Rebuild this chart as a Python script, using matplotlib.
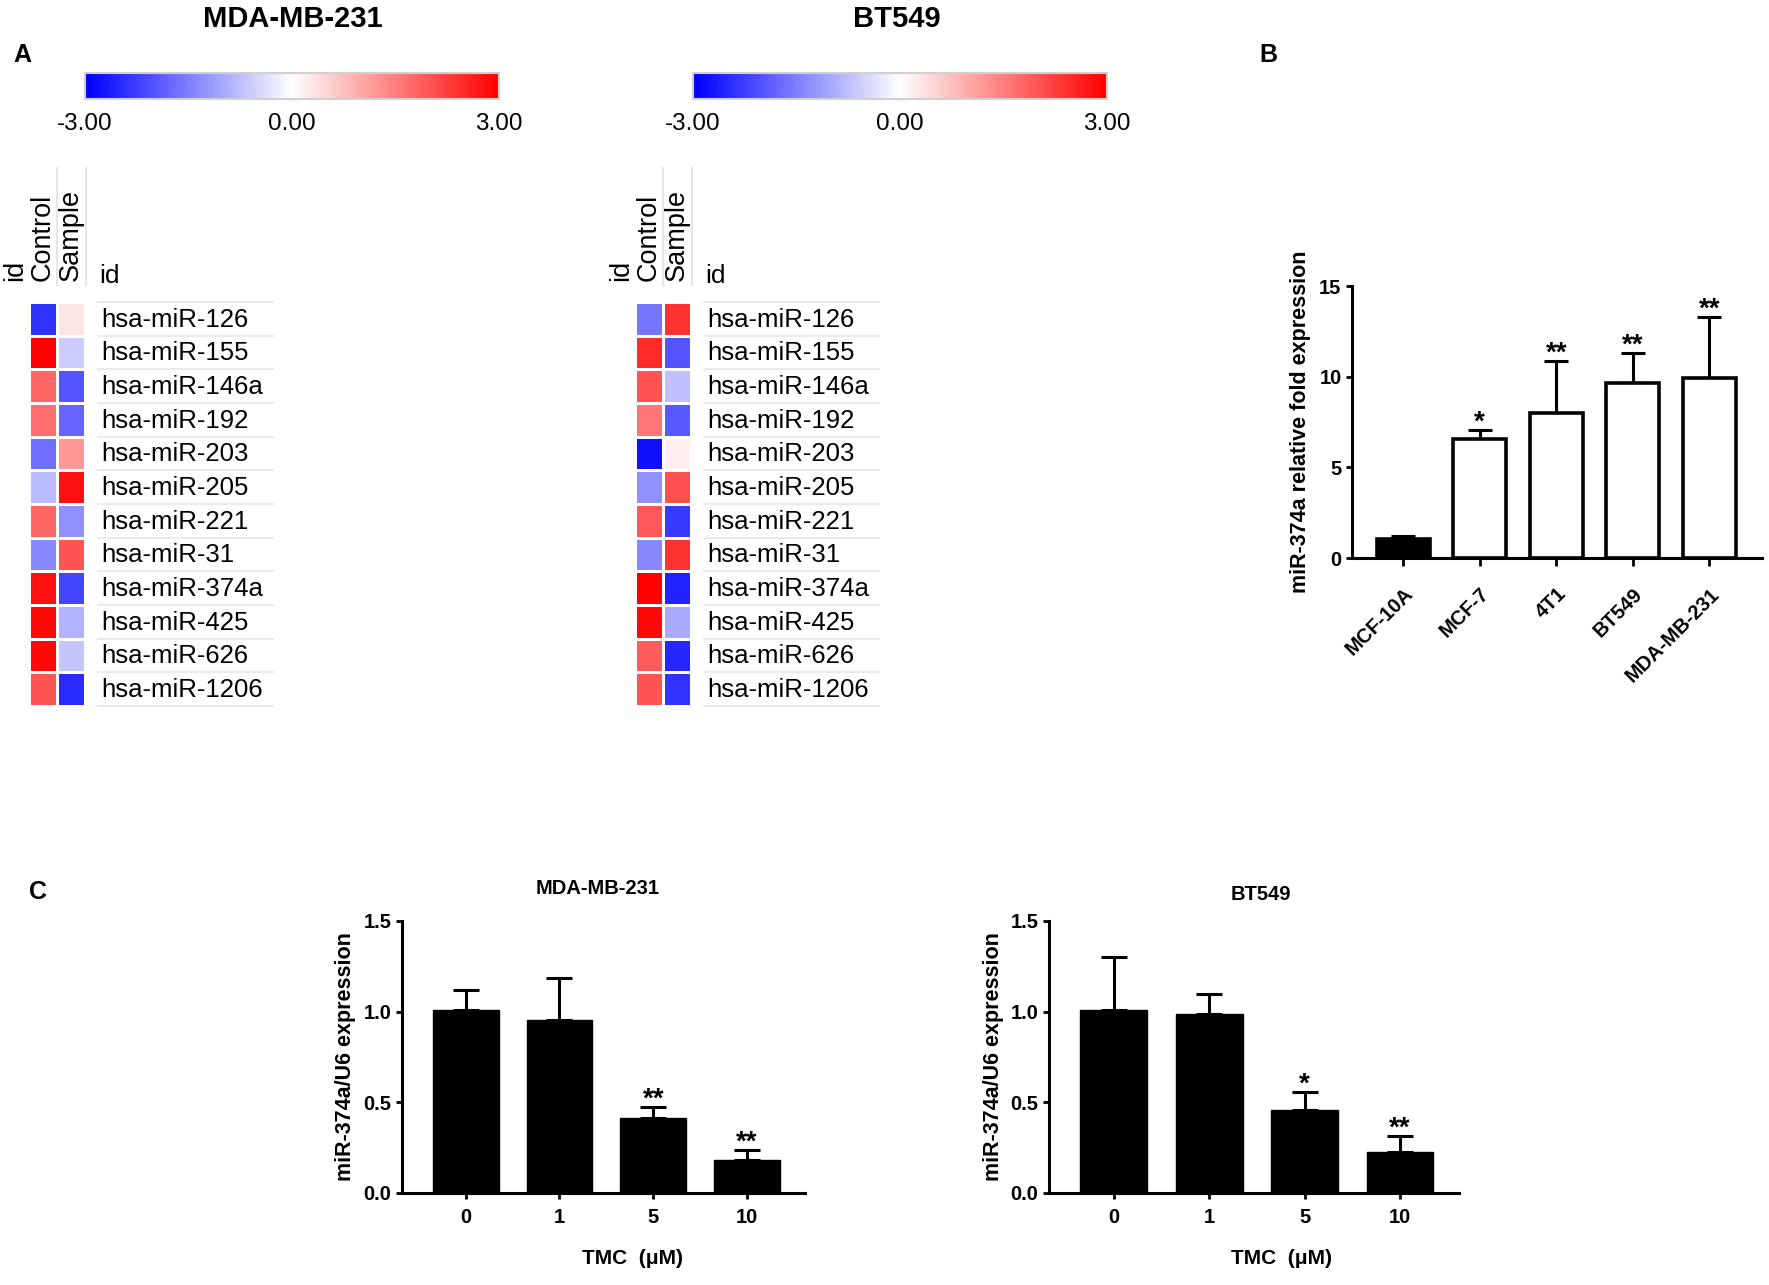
import numpy as np
import matplotlib
matplotlib.use("Agg")
import matplotlib.pyplot as plt
from matplotlib.colors import LinearSegmentedColormap

plt.rcParams['font.family'] = ['Liberation Sans', 'DejaVu Sans']

# ---- data ----
mirnas = ['hsa-miR-126', 'hsa-miR-155', 'hsa-miR-146a', 'hsa-miR-192',
          'hsa-miR-203', 'hsa-miR-205', 'hsa-miR-221', 'hsa-miR-31',
          'hsa-miR-374a', 'hsa-miR-425', 'hsa-miR-626', 'hsa-miR-1206']

mda_control = [-2.4, 3.0, 1.8, 1.7, -1.7, -0.8, 1.8, -1.4, 2.8, 2.9, 2.9, 2.0]
mda_sample = [0.3, -0.6, -2.0, -1.8, 1.2, 2.8, -1.3, 2.0, -2.2, -0.9, -0.7, -2.5]
bt_control = [-1.6, 2.5, 2.0, 1.6, -2.8, -1.3, 1.95, -1.4, 3.0, 2.9, 1.9, 2.0]
bt_sample = [2.4, -2.0, -0.75, -1.95, 0.2, 2.05, -2.3, 2.4, -2.6, -1.0, -2.55, -2.4]

cell_lines = ['MCF-10A', 'MCF-7', '4T1', 'BT549', 'MDA-MB-231']
fold_mean = [1.05, 6.56, 8.0, 9.65, 9.93]
fold_err = [0.15, 0.5, 2.87, 1.65, 3.37]
fold_sig = ['', '*', '**', '**', '**']

tmc_doses = ['0', '1', '5', '10']
mda_tmc_mean = [1.01, 0.955, 0.413, 0.182]
mda_tmc_err = [0.11, 0.23, 0.061, 0.055]
mda_tmc_sig = ['', '', '**', '**']
bt_tmc_mean = [1.01, 0.987, 0.458, 0.226]
bt_tmc_err = [0.29, 0.113, 0.099, 0.088]
bt_tmc_sig = ['', '', '*', '**']

W, H = 1769, 1285
fig = plt.figure(figsize=(W / 100, H / 100), dpi=100)


def box(x0, y0, x1, y1):
    return [x0 / W, 1 - y1 / H, (x1 - x0) / W, (y1 - y0) / H]


cmap = LinearSegmentedColormap.from_list('bwr_ref', ['#0000ff', '#ffffff', '#ff0000'])


def colorbar(x0):
    ax = fig.add_axes(box(x0, 73, x0 + 414, 99))
    ax.imshow(np.linspace(-3, 3, 300)[None, :], aspect='auto', cmap=cmap,
              extent=[-3, 3, 0, 1], vmin=-3, vmax=3)
    ax.set_xticks([])
    ax.set_yticks([])
    for s in ax.spines.values():
        s.set_color('#d0d0d0')
        s.set_linewidth(1.5)
    for v in [-3, 0, 3]:
        ax.text(v, -0.95, '%.2f' % v, ha='center', va='center', fontsize=17.5,
                clip_on=False)


def heatmap(x0, ctrl, samp):
    ax = fig.add_axes(box(x0, 302, x0 + 56, 706))
    data = np.column_stack([ctrl, samp])
    ax.pcolormesh(data, cmap=cmap, vmin=-3, vmax=3, edgecolors='white',
                  linewidth=2)
    ax.set_xlim(0, 2)
    ax.set_ylim(len(mirnas), 0)
    ax.axis('off')
    for i, name in enumerate(mirnas):
        ax.text(2.57, i + 0.52, name, ha='left', va='center', fontsize=18.5)
    for i in range(len(mirnas) + 1):
        ax.plot([2.46, 8.7], [i, i], color='#ebebeb', lw=1.5, clip_on=False)
    # column headers
    for xv, lab in [(-0.5, 'id'), (0.5, 'Control'), (1.5, 'Sample')]:
        ax.text(xv, -0.62, lab, rotation=90, ha='left', va='center',
                rotation_mode='anchor', fontsize=19.5)
    ax.text(2.5, -0.77, 'id', ha='left', va='center', fontsize=19)
    for xv in [1.0, 2.05]:
        ax.plot([xv, xv], [-3.98, -0.5], color='#e6e6e6', lw=1.5,
                clip_on=False)


# ---- panel A ----
fig.text(22 / W, 1 - 55 / H, 'A', fontsize=18, fontweight='bold',
         ha='center', va='center')
fig.text(293 / W, 1 - 19 / H, 'MDA-MB-231', fontsize=21, fontweight='bold',
         ha='center', va='center')
fig.text(897 / W, 1 - 19 / H, 'BT549', fontsize=21, fontweight='bold',
         ha='center', va='center')
colorbar(85)
colorbar(693)
heatmap(29, mda_control, mda_sample)
heatmap(635, bt_control, bt_sample)


def style_axes(ax, fs):
    for side in ['top', 'right']:
        ax.spines[side].set_visible(False)
    for side in ['left', 'bottom']:
        ax.spines[side].set_linewidth(2.2)
    ax.tick_params(width=2, length=4, labelsize=fs)
    for lab in ax.get_xticklabels() + ax.get_yticklabels():
        lab.set_fontweight('bold')


def stars(ax, xs, tops, sig, fs):
    for x, t, s in zip(xs, tops, sig):
        if s:
            ax.annotate(s, (x, t), xytext=(0, 0), textcoords='offset points',
                        ha='center', va='baseline', fontsize=fs,
                        fontweight='bold', annotation_clip=False)


# ---- panel B ----
fig.text(1268 / W, 1 - 55 / H, 'B', fontsize=18, fontweight='bold',
         ha='center', va='center')
axb = fig.add_axes(box(1352, 286, 1762, 558))
xb = np.arange(len(cell_lines))
colors_b = ['black'] + ['white'] * (len(cell_lines) - 1)
axb.bar(xb, fold_mean, width=0.69, color=colors_b, edgecolor='black',
        linewidth=2.6, zorder=2)
axb.errorbar(xb, fold_mean, yerr=[np.zeros(len(xb)), fold_err], fmt='none',
             ecolor='black', elinewidth=2.2, capsize=8.5, capthick=2.2,
             zorder=1)
axb.set_xlim(-0.67, 4.69)
axb.set_ylim(0, 15)
axb.set_yticks([0, 5, 10, 15])
axb.set_xticks(xb)
axb.set_xticklabels(cell_lines, rotation=45, ha='right',
                    rotation_mode='anchor')
style_axes(axb, 14.5)
axb.tick_params(axis='x', length=6, pad=13)
axb.set_ylabel('miR-374a relative fold expression', fontsize=15.5,
               fontweight='bold')
axb.yaxis.set_label_coords(-0.1, 0.5)
stars(axb, xb, np.array(fold_mean) + np.array(fold_err), fold_sig, 20)

# ---- panel C ----
fig.text(38 / W, 1 - 892 / H, 'C', fontsize=18, fontweight='bold',
         ha='center', va='center')


def tmc_panel(rect, title, title_xy, xlabel_xy, means, errs, sig, lab_x):
    ax = fig.add_axes(rect)
    xs = np.arange(len(tmc_doses))
    ax.bar(xs, means, width=0.7, color='black', edgecolor='black', zorder=2)
    ax.errorbar(xs, means, yerr=[np.zeros(len(xs)), errs], fmt='none',
                ecolor='black', elinewidth=2.2, capsize=9.5, capthick=2.2,
                zorder=1)
    ax.set_xlim(-0.68, 3.62)
    ax.set_ylim(0, 1.5)
    ax.set_yticks([0.0, 0.5, 1.0, 1.5])
    ax.set_yticklabels(['0.0', '0.5', '1.0', '1.5'])
    ax.set_xticks(xs)
    ax.set_xticklabels(tmc_doses)
    style_axes(ax, 14.5)
    ax.tick_params(axis='x', pad=7)
    ax.set_ylabel('miR-374a/U6 expression', fontsize=15.5, fontweight='bold')
    ax.yaxis.set_label_coords(lab_x, 0.5)
    stars(ax, xs, np.array(means) + np.array(errs), sig, 20)
    fig.text(title_xy[0] / W, 1 - title_xy[1] / H, title, fontsize=14.5,
             fontweight='bold', ha='center', va='center')
    fig.text(xlabel_xy[0] / W, 1 - xlabel_xy[1] / H, 'TMC  (\u03bcM)',
             fontsize=15, fontweight='bold', ha='center', va='center')
    return ax


tmc_panel(box(402, 921, 805, 1193), 'MDA-MB-231', (598, 888), (632, 1259),
          mda_tmc_mean, mda_tmc_err, mda_tmc_sig, -0.115)
tmc_panel(box(1049, 921, 1459, 1193), 'BT549', (1261, 895), (1281, 1258),
          bt_tmc_mean, bt_tmc_err, bt_tmc_sig, -0.11)

fig.savefig('out.png', dpi=100)
